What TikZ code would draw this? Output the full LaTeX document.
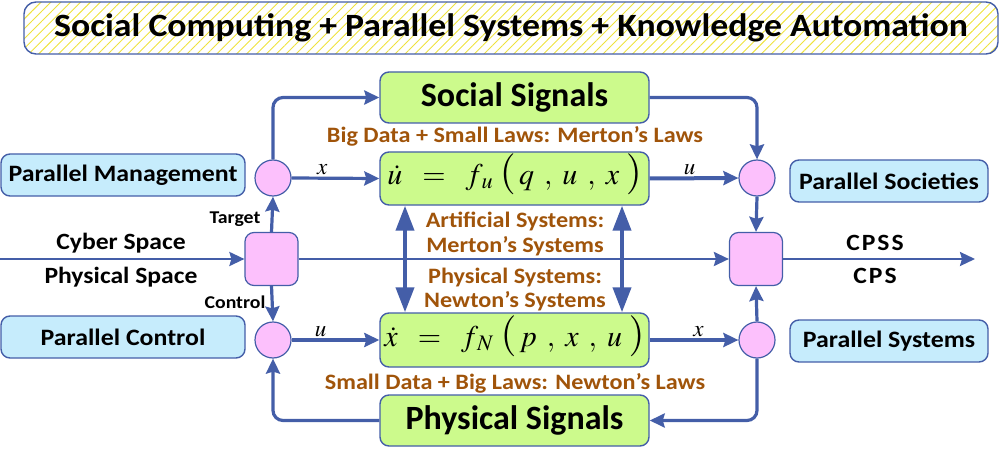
\documentclass[tikz,border=0pt]{standalone}
\usepackage{mathptmx}
\usepackage[no-math]{fontspec}
\setmainfont{Carlito}
\newfontfamily\widefont[FakeStretch=1.1]{Carlito}
\newcommand\myparen[1]{\mathord{\hbox{\fontsize{41}{41}\selectfont$#1$}}}
\usetikzlibrary{arrows.meta,patterns.meta}
\definecolor{lineblue}{RGB}{68,94,168}
\definecolor{boxgreen}{RGB}{204,250,140}
\definecolor{boxblue}{RGB}{198,236,252}
\definecolor{pinkfill}{RGB}{252,192,252}
\definecolor{brownlab}{RGB}{160,84,10}
\definecolor{hatchcol}{RGB}{238,226,60}
\begin{document}
\begin{tikzpicture}[x=1pt,y=-1pt,
  box/.style={draw=lineblue,line width=1.4pt,rounded corners=9pt,inner sep=0pt},
  greenbox/.style={box,fill=boxgreen,minimum width=269pt},
  bluebox/.style={box,fill=boxblue,minimum height=42pt,font=\widefont\fontsize{23.5}{27}\selectfont\bfseries},
  junc/.style={circle,draw=lineblue,line width=1.2pt,fill=pinkfill,minimum size=36pt,inner sep=0pt},
  sqjunc/.style={draw=lineblue,line width=1.2pt,fill=pinkfill,minimum size=53pt,rounded corners=9pt,inner sep=0pt},
  conn/.style={draw=lineblue,line width=3.2pt,rounded corners=10pt,-{Stealth[length=15pt,width=14pt,inset=2pt]}},
  thinconn/.style={draw=lineblue,line width=2.4pt,-{Stealth[length=15pt,width=14pt,inset=2pt]}},
  dbl/.style={draw=lineblue,line width=4pt,{Triangle[length=25pt,width=18pt]}-{Triangle[length=25pt,width=18pt]}},
  brown/.style={text=brownlab,font=\widefont\fontsize{22}{25}\selectfont\bfseries},
  blk/.style={font=\widefont\fontsize{23.3}{27}\selectfont\bfseries},
  small/.style={font=\widefont\fontsize{18}{21}\selectfont\bfseries},
  var/.style={font=\fontsize{23}{26}\selectfont}
]
\useasboundingbox (0,0) rectangle (1000,449);
% title
\node[box,rounded corners=12pt,minimum width=974pt,minimum height=52pt,
  pattern={Lines[angle=45,distance=7pt,line width=0.9pt]},pattern color=hatchcol,
  font=\widefont\fontsize{32.5}{38}\selectfont\bfseries] (title) at (511,28)
  {Social Computing + Parallel Systems + Knowledge Automation};
% green boxes
\node[greenbox,minimum height=51pt,font=\fontsize{34}{40}\selectfont\bfseries] (social) at (514.5,97.5) {Social Signals};
\node[greenbox,minimum height=53pt,text height=22pt,text depth=10pt,font=\fontsize{30}{36}\selectfont] (ueq) at (514.5,178.5)
  {$\dot{u}\;\;=\;\;f_{\,u}\;\myparen{(}\,q\;\,,\;u\;\,,\;x\;\myparen{)}$};
\node[greenbox,minimum height=54pt,text height=22pt,text depth=10pt,font=\fontsize{30}{36}\selectfont] (xeq) at (514.5,340)
  {$\dot{x}\;\;=\;\;f_{\,N}\;\myparen{(}\,p\;\,,\;x\;\,,\;u\;\myparen{)}$};
\node[greenbox,minimum height=51pt,font=\fontsize{34}{40}\selectfont\bfseries] (physig) at (514.5,420.5) {Physical Signals};
% blue boxes
\node[bluebox,minimum width=244pt] (pm) at (123,175) {Parallel Management};
\node[bluebox,minimum width=244pt] (pc) at (123,337) {Parallel Control};
\node[bluebox,minimum width=198pt] (psoc) at (889,181) {Parallel Societies};
\node[bluebox,minimum width=198pt] (psys) at (889,341) {Parallel Systems};
% junctions
\node[junc] (c1) at (273,178) {};
\node[junc] (c2) at (273,340) {};
\node[junc] (c3) at (757,178) {};
\node[junc] (c4) at (757,340) {};
\node[sqjunc] (sq1) at (271.5,259) {};
\node[sqjunc] (sq2) at (756,259) {};
\coordinate (hstart) at (0,259);
\coordinate (hend) at (975,259);
\coordinate (dl) at (405,259);
\coordinate (dr) at (622,259);
% labels
\node[brown] (l1) at (515,136) {Big Data + Small Laws: Merton’s Laws};
\node[brown] (l2) at (515,221) {Artificial Systems:};
\node[brown] (l3) at (515,246) {Merton’s Systems};
\node[brown] (l4) at (515,278) {Physical Systems:};
\node[brown] (l5) at (515,301) {Newton’s Systems};
\node[brown] (l6) at (515,383) {Small Data + Big Laws: Newton’s Laws};
\node[blk] (cyber) at (121,243) {Cyber Space};
\node[blk] (phys) at (121,277) {Physical Space};
\node[blk] (cpss) at (875,243) {C\kern2pt P\kern2pt S\kern2pt S};
\node[blk] (cps) at (875,276) {C\kern2pt P\kern2pt S};
\node[small] (target) at (235,219) {Target};
\node[small] (control) at (235,302) {Control};
% horizontal line
\draw[thinconn] (hstart) -- (sq1.west);
\draw[thinconn] (sq1.east) -- (sq2.west);
\draw[thinconn] (sq2.east) -- (hend);
% connectors
\draw[conn] (c1.north) |- (social.west);
\draw[conn] (c1.east) -- node[var,above=-2pt,pos=0.35]{$x$} (ueq.west);
\draw[conn,line width=4pt] (ueq.east) -- node[var,above=-2pt,pos=0.45]{$u$} (c3.west);
\draw[conn] (social.east) -| (c3.north);
\draw[conn] (c3.south) -- (sq2.north);
\draw[conn] (c4.north) -- (sq2.south);
\draw[conn,line width=4pt] (xeq.east) -- node[var,above=-2pt,pos=0.55]{$x$} (c4.west);
\draw[conn] (c4.south) |- (physig.east);
\draw[conn] (physig.west) -| (c2.south);
\draw[conn] (c2.east) -- node[var,above=-2pt,pos=0.33]{$u$} (xeq.west);
\draw[conn] (sq1.north) -- (c1.south);
\draw[conn] (sq1.south) -- (c2.north);
% double arrows
\draw[dbl] (dl |- ueq.south) -- (dl |- xeq.north);
\draw[dbl] (dr |- ueq.south) -- (dr |- xeq.north);
\end{tikzpicture}
\end{document}
